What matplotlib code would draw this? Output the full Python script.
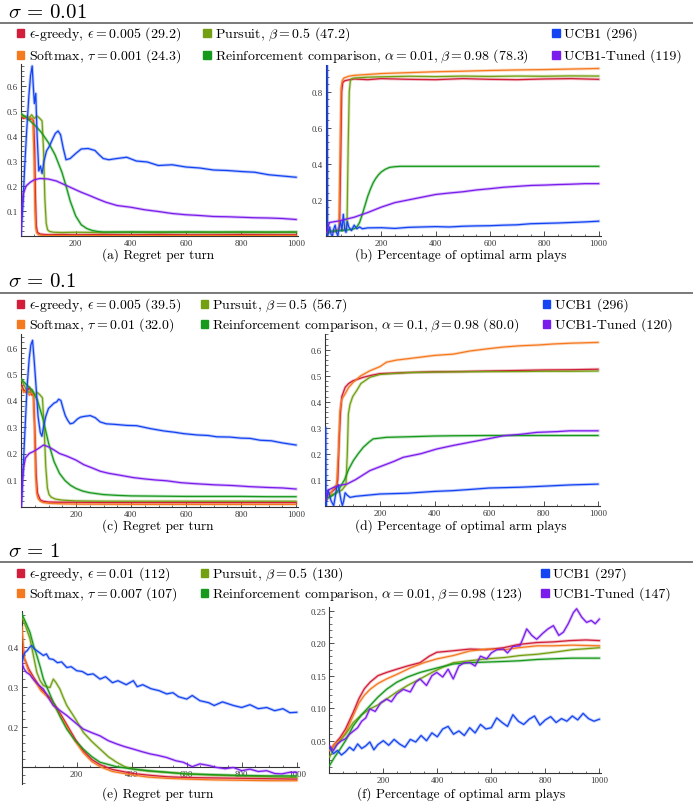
import matplotlib
matplotlib.use('Agg')
import matplotlib.pyplot as plt
from matplotlib.patches import Rectangle
from matplotlib.lines import Line2D
from matplotlib.ticker import MultipleLocator

# ---------------- data ----------------
# sigma = 0.01, regret per turn
A_eps_x = [1, 10, 20, 30, 40, 47, 51, 54, 57, 61, 70, 85, 100, 150, 200, 300, 400, 500, 600, 700, 800, 900, 1000]
A_eps_y = [0.48, 0.47, 0.475, 0.465, 0.47, 0.46, 0.35, 0.15, 0.04, 0.015, 0.008, 0.006, 0.005, 0.006, 0.005, 0.006, 0.005, 0.006, 0.005, 0.005, 0.006, 0.005, 0.005]
A_soft_x = [1, 10, 20, 30, 40, 45, 49, 52, 55, 59, 65, 75, 100, 200, 400, 600, 800, 1000]
A_soft_y = [0.48, 0.48, 0.47, 0.475, 0.47, 0.46, 0.3, 0.1, 0.03, 0.012, 0.005, 0.003, 0.002, 0.002, 0.002, 0.002, 0.002, 0.002]
A_purs_x = [1, 10, 20, 30, 40, 50, 60, 70, 78, 83, 88, 93, 98, 105, 120, 150, 200, 300, 400, 500, 600, 700, 800, 900, 1000]
A_purs_y = [0.49, 0.475, 0.48, 0.47, 0.485, 0.47, 0.48, 0.47, 0.46, 0.35, 0.15, 0.05, 0.025, 0.018, 0.015, 0.014, 0.015, 0.014, 0.015, 0.014, 0.015, 0.014, 0.015, 0.014, 0.015]
A_rc_x = [1, 25, 50, 75, 100, 125, 150, 165, 180, 200, 220, 240, 260, 280, 300, 400, 500, 600, 700, 800, 900, 1000]
A_rc_y = [0.49, 0.47, 0.445, 0.415, 0.375, 0.325, 0.255, 0.2, 0.14, 0.08, 0.045, 0.03, 0.022, 0.018, 0.016, 0.016, 0.016, 0.016, 0.016, 0.016, 0.016, 0.016]
A_ucb_x = [1, 8, 15, 22, 30, 36, 42, 46, 50, 55, 60, 66, 72, 78, 85, 94, 105, 115, 126, 136, 145, 155, 165, 180, 200, 220, 245, 270, 285, 300, 320, 350, 385, 420, 460, 500, 550, 600, 650, 700, 750, 800, 850, 900, 950, 1000]
A_ucb_y = [0.0, 0.12, 0.28, 0.42, 0.56, 0.64, 0.68, 0.6, 0.53, 0.57, 0.4, 0.26, 0.28, 0.25, 0.3, 0.34, 0.36, 0.385, 0.41, 0.42, 0.405, 0.35, 0.305, 0.31, 0.33, 0.348, 0.35, 0.342, 0.325, 0.31, 0.305, 0.31, 0.315, 0.3, 0.296, 0.282, 0.285, 0.276, 0.272, 0.264, 0.262, 0.258, 0.255, 0.245, 0.24, 0.235]
A_tuned_x = [1, 5, 10, 20, 35, 50, 70, 100, 130, 160, 190, 220, 250, 280, 310, 350, 400, 450, 500, 550, 600, 650, 700, 750, 800, 850, 900, 950, 1000]
A_tuned_y = [0.0, 0.12, 0.17, 0.2, 0.215, 0.225, 0.23, 0.228, 0.22, 0.205, 0.19, 0.175, 0.162, 0.148, 0.135, 0.122, 0.115, 0.105, 0.098, 0.09, 0.085, 0.082, 0.078, 0.077, 0.075, 0.073, 0.072, 0.07, 0.066]

# sigma = 0.01, optimal arm plays
B_eps_x = [1, 20, 40, 46, 50, 54, 58, 65, 80, 100, 150, 200, 300, 400, 500, 600, 700, 800, 900, 1000]
B_eps_y = [0.02, 0.025, 0.03, 0.05, 0.4, 0.8, 0.85, 0.86, 0.865, 0.87, 0.866, 0.872, 0.868, 0.866, 0.872, 0.868, 0.866, 0.87, 0.872, 0.868]
B_soft_x = [1, 20, 40, 44, 48, 52, 56, 62, 80, 100, 150, 200, 300, 400, 500, 600, 700, 800, 900, 1000]
B_soft_y = [0.02, 0.025, 0.03, 0.05, 0.45, 0.82, 0.86, 0.875, 0.885, 0.89, 0.895, 0.9, 0.905, 0.91, 0.913, 0.917, 0.92, 0.922, 0.925, 0.928]
B_purs_x = [1, 20, 40, 60, 70, 74, 78, 82, 86, 90, 100, 150, 200, 300, 400, 500, 600, 700, 800, 900, 1000]
B_purs_y = [0.02, 0.03, 0.03, 0.035, 0.04, 0.1, 0.5, 0.8, 0.86, 0.87, 0.875, 0.88, 0.882, 0.885, 0.883, 0.886, 0.884, 0.886, 0.885, 0.887, 0.886]
B_rc_x = [1, 20, 40, 60, 80, 100, 110, 120, 130, 140, 150, 160, 170, 180, 190, 200, 215, 230, 250, 270, 300, 400, 500, 600, 700, 800, 900, 1000]
B_rc_y = [0.02, 0.025, 0.03, 0.03, 0.035, 0.04, 0.05, 0.075, 0.12, 0.17, 0.22, 0.26, 0.295, 0.32, 0.34, 0.355, 0.37, 0.38, 0.384, 0.386, 0.386, 0.386, 0.386, 0.386, 0.386, 0.386, 0.386, 0.386]
B_ucb_x = [1, 2, 5, 10, 15, 20, 25, 30, 35, 40, 45, 50, 55, 60, 65, 70, 75, 80, 90, 100, 110, 120, 130, 150, 200, 250, 300, 350, 400, 450, 500, 550, 600, 650, 700, 750, 800, 850, 900, 950, 1000]
B_ucb_y = [1.0, 0.0, 0.02, 0.05, 0.01, 0.0, 0.04, 0.06, 0.02, 0.0, 0.05, 0.08, 0.03, 0.12, 0.04, 0.02, 0.08, 0.05, 0.03, 0.06, 0.04, 0.05, 0.04, 0.045, 0.046, 0.042, 0.048, 0.05, 0.052, 0.05, 0.054, 0.056, 0.057, 0.06, 0.062, 0.068, 0.07, 0.072, 0.075, 0.078, 0.082]
B_tuned_x = [1, 5, 10, 30, 50, 75, 100, 150, 200, 250, 300, 350, 400, 450, 500, 550, 600, 650, 700, 750, 800, 850, 900, 950, 1000]
B_tuned_y = [0.02, 0.06, 0.075, 0.08, 0.085, 0.095, 0.104, 0.13, 0.16, 0.185, 0.2, 0.215, 0.23, 0.238, 0.245, 0.255, 0.262, 0.27, 0.275, 0.28, 0.282, 0.285, 0.287, 0.29, 0.29]

# sigma = 0.1, regret per turn
C_eps_x = [1, 10, 20, 30, 40, 45, 50, 55, 60, 70, 80, 100, 150, 200, 300, 400, 500, 600, 700, 800, 900, 1000]
C_eps_y = [0.46, 0.44, 0.43, 0.45, 0.42, 0.43, 0.3, 0.12, 0.05, 0.025, 0.02, 0.017, 0.016, 0.016, 0.015, 0.015, 0.015, 0.015, 0.015, 0.015, 0.015, 0.015]
C_soft_x = [1, 10, 20, 30, 40, 45, 49, 53, 57, 62, 70, 80, 100, 150, 200, 400, 600, 800, 1000]
C_soft_y = [0.45, 0.43, 0.44, 0.42, 0.43, 0.42, 0.3, 0.12, 0.05, 0.03, 0.02, 0.015, 0.012, 0.01, 0.009, 0.008, 0.008, 0.008, 0.008]
C_purs_x = [1, 10, 20, 30, 40, 50, 60, 70, 78, 84, 90, 96, 102, 110, 125, 150, 200, 300, 400, 500, 600, 700, 800, 900, 1000]
C_purs_y = [0.48, 0.46, 0.44, 0.43, 0.44, 0.42, 0.43, 0.42, 0.41, 0.3, 0.15, 0.07, 0.045, 0.035, 0.028, 0.024, 0.021, 0.02, 0.02, 0.02, 0.02, 0.02, 0.02, 0.02, 0.02]
C_rc_x = [1, 20, 40, 60, 80, 100, 120, 140, 160, 180, 200, 225, 250, 300, 350, 400, 500, 600, 700, 800, 900, 1000]
C_rc_y = [0.48, 0.46, 0.44, 0.4, 0.33, 0.24, 0.17, 0.125, 0.098, 0.08, 0.068, 0.058, 0.052, 0.045, 0.042, 0.04, 0.039, 0.038, 0.038, 0.038, 0.037, 0.037]
C_ucb_x = [1, 8, 15, 22, 30, 36, 42, 48, 55, 62, 70, 76, 82, 90, 100, 110, 120, 130, 137, 145, 153, 161, 170, 179, 190, 205, 216, 230, 252, 270, 288, 310, 340, 385, 420, 470, 520, 560, 591, 640, 680, 712, 760, 800, 833, 870, 910, 950, 1000]
C_ucb_y = [0.0, 0.15, 0.3, 0.45, 0.56, 0.61, 0.627, 0.55, 0.45, 0.34, 0.28, 0.265, 0.3, 0.34, 0.37, 0.38, 0.39, 0.395, 0.405, 0.4, 0.37, 0.343, 0.325, 0.312, 0.315, 0.33, 0.337, 0.34, 0.343, 0.335, 0.319, 0.312, 0.31, 0.306, 0.305, 0.294, 0.285, 0.28, 0.275, 0.27, 0.268, 0.263, 0.262, 0.258, 0.257, 0.25, 0.248, 0.24, 0.232]
C_tuned_x = [1, 5, 10, 16, 30, 46, 65, 82, 100, 119, 140, 167, 200, 228, 260, 288, 320, 360, 409, 450, 490, 530, 580, 620, 651, 700, 772, 830, 893, 950, 1000]
C_tuned_y = [0.0, 0.1, 0.15, 0.183, 0.2, 0.208, 0.22, 0.232, 0.225, 0.214, 0.2, 0.19, 0.175, 0.158, 0.145, 0.133, 0.125, 0.118, 0.109, 0.104, 0.1, 0.097, 0.09, 0.087, 0.085, 0.082, 0.079, 0.075, 0.072, 0.07, 0.066]

# sigma = 0.1, optimal arm plays
D_eps_x = [1, 20, 40, 45, 50, 55, 60, 72, 85, 100, 139, 170, 200, 300, 400, 500, 600, 700, 800, 900, 1000]
D_eps_y = [0.03, 0.05, 0.07, 0.1, 0.25, 0.36, 0.42, 0.455, 0.47, 0.48, 0.494, 0.502, 0.508, 0.512, 0.515, 0.516, 0.518, 0.52, 0.522, 0.523, 0.525]
D_soft_x = [1, 20, 41, 47, 53, 60, 72, 85, 102, 130, 163, 200, 224, 260, 300, 346, 400, 469, 530, 591, 650, 714, 780, 836, 900, 1000]
D_soft_y = [0.02, 0.05, 0.083, 0.2, 0.365, 0.41, 0.43, 0.455, 0.475, 0.5, 0.519, 0.535, 0.552, 0.56, 0.565, 0.571, 0.578, 0.583, 0.595, 0.603, 0.61, 0.615, 0.618, 0.622, 0.625, 0.628]
D_purs_x = [1, 20, 40, 60, 75, 80, 84, 90, 100, 114, 130, 163, 200, 300, 400, 500, 600, 700, 800, 900, 1000]
D_purs_y = [0.02, 0.04, 0.05, 0.06, 0.08, 0.2, 0.353, 0.39, 0.42, 0.442, 0.47, 0.494, 0.505, 0.512, 0.514, 0.515, 0.516, 0.516, 0.517, 0.517, 0.518]
D_rc_x = [1, 20, 40, 53, 70, 85, 102, 120, 139, 160, 175, 200, 224, 300, 400, 469, 600, 700, 800, 900, 1000]
D_rc_y = [0.03, 0.035, 0.05, 0.07, 0.1, 0.14, 0.173, 0.2, 0.225, 0.245, 0.257, 0.26, 0.263, 0.265, 0.268, 0.269, 0.27, 0.27, 0.27, 0.27, 0.27]
D_ucb_x = [1, 2, 5, 10, 15, 20, 25, 30, 35, 41, 47, 52, 57, 62, 67, 72, 80, 90, 110, 150, 200, 300, 400, 469, 550, 600, 714, 800, 900, 1000]
D_ucb_y = [0.3, 0.0, 0.03, 0.06, 0.04, 0.02, 0.01, 0.0, 0.03, 0.07, 0.08, 0.05, 0.02, 0.0, 0.02, 0.05, 0.04, 0.032, 0.036, 0.04, 0.045, 0.048, 0.055, 0.058, 0.064, 0.068, 0.071, 0.075, 0.08, 0.083]
D_tuned_x = [1, 5, 10, 29, 50, 78, 110, 163, 200, 250, 285, 350, 408, 470, 530, 600, 653, 720, 775, 850, 897, 950, 1000]
D_tuned_y = [0.02, 0.05, 0.06, 0.07, 0.078, 0.083, 0.1, 0.135, 0.15, 0.17, 0.186, 0.2, 0.218, 0.232, 0.244, 0.258, 0.269, 0.275, 0.282, 0.285, 0.288, 0.288, 0.288]

# sigma = 1, regret per turn
E_eps_x = [1, 10, 25, 42, 70, 103, 130, 164, 195, 224, 255, 285, 330, 406, 460, 527, 600, 700, 800, 900, 1000]
E_eps_y = [0.40, 0.37, 0.345, 0.325, 0.295, 0.272, 0.245, 0.205, 0.168, 0.14, 0.118, 0.105, 0.093, 0.083, 0.079, 0.075, 0.073, 0.072, 0.071, 0.07, 0.069]
E_soft_x = [1, 10, 25, 42, 70, 103, 130, 164, 195, 224, 255, 285, 330, 406, 460, 527, 600, 700, 800, 900, 1000]
E_soft_y = [0.45, 0.37, 0.34, 0.32, 0.29, 0.268, 0.24, 0.2, 0.163, 0.135, 0.113, 0.1, 0.088, 0.079, 0.074, 0.071, 0.069, 0.067, 0.066, 0.065, 0.065]
E_purs_x = [1, 15, 30, 42, 55, 67, 79, 90, 103, 115, 125, 139, 150, 164, 195, 224, 255, 285, 315, 345, 375, 406, 460, 527, 600, 700, 800, 900, 1000]
E_purs_y = [0.473, 0.45, 0.42, 0.38, 0.336, 0.315, 0.303, 0.3, 0.298, 0.319, 0.31, 0.294, 0.275, 0.253, 0.22, 0.186, 0.163, 0.144, 0.125, 0.111, 0.1, 0.094, 0.089, 0.086, 0.082, 0.079, 0.077, 0.075, 0.073]
E_rc_x = [1, 15, 30, 42, 55, 67, 79, 97, 115, 140, 164, 195, 224, 255, 285, 345, 406, 460, 527, 600, 700, 800, 900, 1000]
E_rc_y = [0.481, 0.46, 0.436, 0.405, 0.378, 0.35, 0.319, 0.29, 0.261, 0.225, 0.194, 0.165, 0.144, 0.125, 0.111, 0.1, 0.094, 0.09, 0.086, 0.082, 0.08, 0.078, 0.077, 0.077]
E_ucb_x = [1, 6, 12, 20, 28, 36, 45, 55, 65, 79, 90, 100, 115, 130, 145, 164, 180, 200, 220, 240, 260, 285, 305, 330, 350, 380, 406, 420, 440, 470, 500, 527, 550, 570, 600, 620, 648, 680, 700, 730, 770, 800, 830, 860, 891, 920, 950, 975, 1000]
E_ucb_y = [0.36, 0.375, 0.386, 0.39, 0.398, 0.403, 0.395, 0.39, 0.385, 0.378, 0.382, 0.37, 0.368, 0.36, 0.362, 0.348, 0.35, 0.34, 0.338, 0.33, 0.332, 0.319, 0.325, 0.31, 0.315, 0.305, 0.315, 0.3, 0.305, 0.295, 0.29, 0.282, 0.285, 0.275, 0.269, 0.278, 0.265, 0.26, 0.253, 0.262, 0.253, 0.248, 0.255, 0.245, 0.248, 0.24, 0.245, 0.235, 0.236]
E_tuned_x = [1, 8, 17, 30, 42, 60, 79, 95, 115, 140, 164, 195, 224, 255, 285, 315, 345, 375, 406, 435, 467, 497, 527, 560, 588, 620, 648, 680, 710, 740, 770, 800, 830, 860, 891, 920, 946, 975, 1000]
E_tuned_y = [0.36, 0.345, 0.336, 0.33, 0.319, 0.305, 0.294, 0.275, 0.253, 0.24, 0.228, 0.21, 0.194, 0.185, 0.177, 0.165, 0.157, 0.15, 0.144, 0.138, 0.132, 0.128, 0.123, 0.115, 0.111, 0.1, 0.107, 0.103, 0.098, 0.095, 0.098, 0.09, 0.094, 0.088, 0.09, 0.083, 0.082, 0.086, 0.086]

# sigma = 1, optimal arm plays
F_eps_x = [1, 20, 40, 60, 89, 110, 130, 151, 180, 212, 250, 290, 336, 370, 398, 450, 521, 580, 645, 700, 768, 830, 891, 950, 1000]
F_eps_y = [0.035, 0.045, 0.055, 0.068, 0.094, 0.115, 0.13, 0.14, 0.15, 0.155, 0.16, 0.165, 0.17, 0.18, 0.186, 0.188, 0.191, 0.19, 0.193, 0.198, 0.201, 0.202, 0.204, 0.205, 0.204]
F_soft_x = [1, 20, 40, 60, 89, 110, 130, 151, 180, 212, 250, 300, 350, 400, 459, 520, 583, 650, 700, 770, 830, 900, 1000]
F_soft_y = [0.035, 0.045, 0.052, 0.062, 0.089, 0.108, 0.12, 0.129, 0.138, 0.145, 0.152, 0.162, 0.17, 0.176, 0.181, 0.188, 0.191, 0.19, 0.193, 0.196, 0.196, 0.197, 0.196]
F_purs_x = [1, 20, 40, 60, 89, 120, 151, 180, 212, 250, 290, 336, 380, 420, 459, 520, 583, 650, 706, 770, 830, 900, 1000]
F_purs_y = [0.025, 0.04, 0.05, 0.06, 0.078, 0.09, 0.099, 0.105, 0.114, 0.125, 0.135, 0.145, 0.155, 0.163, 0.17, 0.173, 0.176, 0.178, 0.181, 0.183, 0.186, 0.19, 0.193]
F_rc_x = [1, 20, 40, 60, 89, 120, 151, 180, 212, 250, 290, 336, 400, 459, 520, 583, 650, 706, 770, 830, 900, 1000]
F_rc_y = [0.012, 0.025, 0.037, 0.05, 0.073, 0.09, 0.104, 0.117, 0.129, 0.14, 0.148, 0.155, 0.162, 0.168, 0.17, 0.171, 0.172, 0.173, 0.175, 0.176, 0.177, 0.177]
F_ucb_x = [1, 15, 30, 45, 60, 75, 90, 105, 120, 135, 150, 165, 180, 200, 220, 240, 260, 280, 300, 320, 340, 360, 380, 400, 420, 440, 460, 480, 500, 520, 540, 560, 580, 600, 620, 640, 660, 680, 700, 720, 740, 760, 780, 800, 820, 840, 860, 880, 900, 920, 940, 960, 980, 1000]
F_ucb_y = [0.04, 0.03, 0.035, 0.028, 0.033, 0.04, 0.035, 0.045, 0.038, 0.042, 0.048, 0.036, 0.044, 0.05, 0.043, 0.052, 0.045, 0.04, 0.052, 0.048, 0.058, 0.05, 0.062, 0.056, 0.068, 0.072, 0.06, 0.065, 0.058, 0.07, 0.062, 0.075, 0.068, 0.07, 0.085, 0.078, 0.072, 0.09, 0.08, 0.075, 0.083, 0.088, 0.074, 0.082, 0.087, 0.078, 0.084, 0.08, 0.088, 0.082, 0.092, 0.084, 0.08, 0.083]
F_tuned_x = [1, 15, 30, 45, 60, 75, 90, 105, 120, 135, 150, 170, 190, 212, 230, 250, 274, 300, 320, 336, 360, 380, 398, 420, 440, 459, 480, 500, 521, 540, 560, 583, 600, 620, 645, 660, 680, 706, 720, 731, 750, 768, 790, 810, 830, 850, 867, 885, 904, 916, 935, 953, 970, 985, 1000]
F_tuned_y = [0.042, 0.035, 0.045, 0.05, 0.053, 0.06, 0.065, 0.07, 0.08, 0.085, 0.099, 0.095, 0.108, 0.114, 0.11, 0.122, 0.129, 0.125, 0.14, 0.145, 0.135, 0.15, 0.155, 0.148, 0.16, 0.145, 0.165, 0.17, 0.17, 0.165, 0.18, 0.176, 0.185, 0.19, 0.191, 0.185, 0.195, 0.196, 0.21, 0.222, 0.212, 0.206, 0.215, 0.222, 0.227, 0.212, 0.217, 0.23, 0.247, 0.253, 0.24, 0.232, 0.235, 0.23, 0.237]

SECTION_TITLES = [r'$\sigma\,=\,0.01$', r'$\sigma\,=\,0.1$', r'$\sigma\,=\,1$']
LEGENDS = [
    [r'$\epsilon$-greedy, $\epsilon = 0.005$ (29.2)', r'Softmax, $\tau = 0.001$ (24.3)',
     r'Pursuit, $\beta = 0.5$ (47.2)', r'Reinforcement comparison, $\alpha = 0.01, \beta = 0.98$ (78.3)',
     r'UCB1 (296)', r'UCB1-Tuned (119)'],
    [r'$\epsilon$-greedy, $\epsilon = 0.005$ (39.5)', r'Softmax, $\tau = 0.01$ (32.0)',
     r'Pursuit, $\beta = 0.5$ (56.7)', r'Reinforcement comparison, $\alpha = 0.1, \beta = 0.98$ (80.0)',
     r'UCB1 (296)', r'UCB1-Tuned (120)'],
    [r'$\epsilon$-greedy, $\epsilon = 0.01$ (112)', r'Softmax, $\tau = 0.007$ (107)',
     r'Pursuit, $\beta = 0.5$ (130)', r'Reinforcement comparison, $\alpha = 0.01, \beta = 0.98$ (123)',
     r'UCB1 (297)', r'UCB1-Tuned (147)'],
]
CAPTIONS = ['(a) Regret per turn', '(b) Percentage of optimal arm plays',
            '(c) Regret per turn', '(d) Percentage of optimal arm plays',
            '(e) Regret per turn', '(f) Percentage of optimal arm plays']
X_TICKS = [200, 400, 600, 800, 1000]

C_EPS = '#D21E3A'
C_SOFT = '#F5791F'
C_PURS = '#72A012'
C_RC = '#17991D'
C_UCB = '#1444F2'
C_TUNED = '#7A1CEC'
LEG_COLORS = [C_EPS, C_SOFT, C_PURS, C_RC, C_UCB, C_TUNED]

# ---------------- figure ----------------
W, H = 693, 803
plt.rcParams['mathtext.fontset'] = 'cm'
plt.rcParams['font.family'] = 'cmr10'
plt.rcParams['axes.unicode_minus'] = False

fig = plt.figure(figsize=(W / 100, H / 100), dpi=100)
AX_COL = '#333333'
TICK_FAMILY = 'Liberation Serif'
TICK_SIZE = 6.3


def fx(px):
    return px / W


def fy(py):
    return (H - py) / H


def panel(px0, sx, xlo, xhi, py0, sy, ylo, yhi, xaxis_at, yticks, ylabels, yminor):
    left = px0 + xlo * sx
    right = px0 + xhi * sx
    bottom = py0 - ylo * sy
    top = py0 - yhi * sy
    ax = fig.add_axes([fx(left), fy(bottom), (right - left) / W, (bottom - top) / H])
    ax.set_xlim(xlo, xhi)
    ax.set_ylim(ylo, yhi)
    ax.patch.set_alpha(0)
    for s in ['top', 'right']:
        ax.spines[s].set_visible(False)
    ax.spines['bottom'].set_position(('data', xaxis_at))
    for s in ['left', 'bottom']:
        ax.spines[s].set_color(AX_COL)
        ax.spines[s].set_linewidth(0.8)
        ax.spines[s].set_zorder(1)
    ax.set_xticks(X_TICKS)
    ax.set_xticklabels([str(t) for t in X_TICKS], fontfamily=TICK_FAMILY, fontsize=TICK_SIZE)
    ax.set_yticks(yticks)
    ax.set_yticklabels(ylabels, fontfamily=TICK_FAMILY, fontsize=TICK_SIZE)
    ax.xaxis.set_minor_locator(MultipleLocator(50))
    ax.yaxis.set_minor_locator(MultipleLocator(yminor))
    ax.tick_params(which='major', direction='in', length=3.5, width=0.6, color=AX_COL,
                   labelcolor='#333333', pad=2.2)
    ax.tick_params(which='minor', direction='in', length=1.8, width=0.5, color=AX_COL)
    return ax


def draw(ax, x, y, c):
    ax.plot(x, y, color=c, lw=2.2, alpha=0.28, solid_joinstyle='round', zorder=2)
    ax.plot(x, y, color=c, lw=0.9, solid_joinstyle='round', zorder=3)


def section(title_y, line_y, row1, row2, col_sq, title, texts):
    fig.text(fx(8), fy(title_y), title, fontsize=15, va='center', ha='left')
    fig.add_artist(Line2D([0, 1], [fy(line_y), fy(line_y)], color='#555555', lw=1.1,
                          transform=fig.transFigure))
    for i, t in enumerate(texts):
        col = i // 2
        row = row1 if i % 2 == 0 else row2
        sqx = col_sq[col]
        s = 7.5
        fig.add_artist(Rectangle((fx(sqx - s / 2), fy(row + s / 2)), s / W, s / H,
                                 color=LEG_COLORS[i], transform=fig.transFigure))
        fig.text(fx(sqx + 8), fy(row), t, fontsize=10, va='center', ha='left')


section(12.5, 24, 34, 56, [20.7, 207, 556], SECTION_TITLES[0], LEGENDS[0])
section(281.7, 294, 305, 325, [20.7, 204.3, 546.7], SECTION_TITLES[1], LEGENDS[1])
section(551.7, 563.3, 574, 594, [20.7, 204.3, 545], SECTION_TITLES[2], LEGENDS[2])

# panel a
axA = panel(20.6, 0.2755, 0, 1008, 237, 250, 0, 0.69, 0,
            [0.1, 0.2, 0.3, 0.4, 0.5, 0.6], ['0.1', '0.2', '0.3', '0.4', '0.5', '0.6'], 0.02)
for x, y, c in [(A_eps_x, A_eps_y, C_EPS), (A_soft_x, A_soft_y, C_SOFT), (A_purs_x, A_purs_y, C_PURS),
                (A_rc_x, A_rc_y, C_RC), (A_ucb_x, A_ucb_y, C_UCB), (A_tuned_x, A_tuned_y, C_TUNED)]:
    draw(axA, x, y, c)

# panel b
axB = panel(327.0, 0.2716, -4, 1008, 237, 180.5, 0, 0.95, 0,
            [0.2, 0.4, 0.6, 0.8], ['0.2', '0.4', '0.6', '0.8'], 0.04)
for x, y, c in [(B_eps_x, B_eps_y, C_EPS), (B_soft_x, B_soft_y, C_SOFT), (B_purs_x, B_purs_y, C_PURS),
                (B_rc_x, B_rc_y, C_RC), (B_ucb_x, B_ucb_y, C_UCB), (B_tuned_x, B_tuned_y, C_TUNED)]:
    draw(axB, x, y, c)

# panel c
axC = panel(21.0, 0.275, 0, 1008, 507.5, 265, 0, 0.65, 0,
            [0.1, 0.2, 0.3, 0.4, 0.5, 0.6], ['0.1', '0.2', '0.3', '0.4', '0.5', '0.6'], 0.02)
for x, y, c in [(C_eps_x, C_eps_y, C_EPS), (C_soft_x, C_soft_y, C_SOFT), (C_purs_x, C_purs_y, C_PURS),
                (C_rc_x, C_rc_y, C_RC), (C_ucb_x, C_ucb_y, C_UCB), (C_tuned_x, C_tuned_y, C_TUNED)]:
    draw(axC, x, y, c)

# panel d
axD = panel(325.5, 0.2725, -1, 1008, 506.7, 260, 0, 0.66, 0,
            [0.1, 0.2, 0.3, 0.4, 0.5, 0.6], ['0.1', '0.2', '0.3', '0.4', '0.5', '0.6'], 0.02)
for x, y, c in [(D_eps_x, D_eps_y, C_EPS), (D_soft_x, D_soft_y, C_SOFT), (D_purs_x, D_purs_y, C_PURS),
                (D_rc_x, D_rc_y, C_RC), (D_ucb_x, D_ucb_y, C_UCB), (D_tuned_x, D_tuned_y, C_TUNED)]:
    draw(axD, x, y, c)

# panel e
axE = panel(21.7, 0.275, 0, 1008, 807.7, 400, 0.057, 0.49, 0.1,
            [0.2, 0.3, 0.4], ['0.2', '0.3', '0.4'], 0.02)
for x, y, c in [(E_eps_x, E_eps_y, C_EPS), (E_soft_x, E_soft_y, C_SOFT), (E_purs_x, E_purs_y, C_PURS),
                (E_rc_x, E_rc_y, C_RC), (E_ucb_x, E_ucb_y, C_UCB), (E_tuned_x, E_tuned_y, C_TUNED)]:
    draw(axE, x, y, c)

# panel f
axF = panel(329.3, 0.27, 0, 1008, 774.2, 650, 0, 0.256, 0,
            [0.05, 0.10, 0.15, 0.20, 0.25], ['0.05', '0.10', '0.15', '0.20', '0.25'], 0.01)
for x, y, c in [(F_eps_x, F_eps_y, C_EPS), (F_soft_x, F_soft_y, C_SOFT), (F_purs_x, F_purs_y, C_PURS),
                (F_rc_x, F_rc_y, C_RC), (F_ucb_x, F_ucb_y, C_UCB), (F_tuned_x, F_tuned_y, C_TUNED)]:
    draw(axF, x, y, c)

# captions
for (cx, cy), cap in zip([(158, 255), (461, 255), (158, 526), (461, 526), (158, 794), (461, 794)], CAPTIONS):
    fig.text(fx(cx), fy(cy), cap, fontsize=9.6, ha='center', va='center')

fig.savefig('out.png', dpi=100)
